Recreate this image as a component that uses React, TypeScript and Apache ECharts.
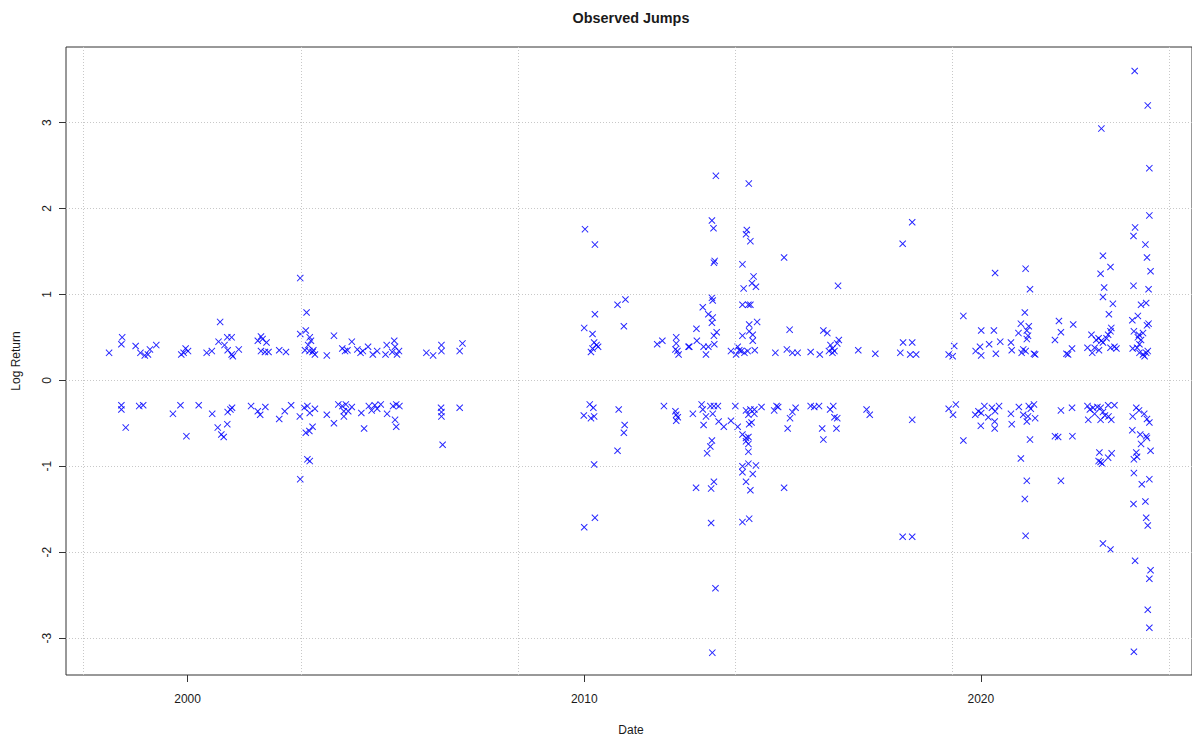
import React, { useEffect, useRef } from "react";
import * as echarts from "echarts";

// Tick labels / grid positions
const xTickYears = [2000, 2010, 2020];
const yTicks = [-3, -2, -1, 0, 1, 2, 3];
const xGridDays = [10000, 12000, 14000, 16000, 18000, 20000];

// Observed jumps: dates as decimal years, log returns
const datesA = [
  1998.02, 1998.35, 1998.33, 1998.69, 1998.81, 1998.92, 1999.0, 1999.05, 1999.21, 1999.84, 1999.95, 2000.01, 1999.9,
  2000.48, 2000.61, 2000.82, 2000.78, 2001.0, 2001.11, 2000.93, 2001.01, 2001.11, 2001.14, 2001.29, 2001.77, 2001.85,
  2001.89, 2001.99, 2001.85, 2001.95, 2002.04, 2002.31, 2002.48,
  1998.33, 1998.33, 1998.44, 1998.78, 1998.88, 1999.63, 1999.82, 1999.97, 2000.28, 2000.62, 2000.76, 2000.85, 2000.91,
  2001.0, 2001.01, 2001.08, 2001.12, 2001.6, 2001.77, 2001.83, 2001.96, 2002.31, 2002.45, 2002.61,
];
const returnsA = [
  0.32, 0.5, 0.42, 0.4, 0.32, 0.29, 0.3, 0.36, 0.41, 0.3, 0.37, 0.34, 0.32,
  0.32, 0.34, 0.68, 0.45, 0.5, 0.5, 0.41, 0.35, 0.3, 0.28, 0.36, 0.46, 0.51,
  0.48, 0.44, 0.34, 0.33, 0.33, 0.35, 0.33,
  -0.29, -0.34, -0.55, -0.3, -0.29, -0.39, -0.29, -0.65, -0.29, -0.39, -0.55, -0.63, -0.66,
  -0.51, -0.37, -0.34, -0.32, -0.3, -0.36, -0.4, -0.31, -0.45, -0.36, -0.29,
];

const datesB = [
  2002.84, 2003.0, 2002.84, 2002.98, 2003.08, 2003.11, 2003.04, 2002.96, 2003.07, 2003.15, 2003.21, 2003.17, 2003.51,
  2003.69, 2003.9, 2003.97, 2004.03, 2004.14, 2004.28, 2004.36, 2004.42, 2004.55, 2004.67, 2004.78, 2004.99, 2005.02,
  2005.21, 2005.23, 2005.16, 2005.28, 2005.33, 2006.02, 2006.19, 2006.4, 2006.4, 2006.86, 2006.93,
  2002.83, 2002.84, 2002.94, 2003.02, 2003.08, 2003.21, 2002.98, 2003.07, 2003.15, 2003.02, 2003.08, 2003.51, 2003.69,
  2003.8, 2003.9, 2003.99, 2003.94, 2003.94, 2004.05, 2004.14, 2004.38, 2004.45, 2004.57, 2004.64, 2004.72, 2004.78,
  2004.87, 2005.03, 2005.18, 2005.26, 2005.34, 2005.23, 2005.26, 2006.39, 2006.4, 2006.4, 2006.43, 2006.86,
];
const returnsB = [
  1.19, 0.79, 0.54, 0.58, 0.5, 0.46, 0.41, 0.35, 0.34, 0.33, 0.3, 0.35, 0.29,
  0.52, 0.37, 0.34, 0.35, 0.45, 0.36, 0.32, 0.34, 0.39, 0.3, 0.34, 0.3, 0.41,
  0.46, 0.39, 0.33, 0.3, 0.34, 0.32, 0.29, 0.41, 0.34, 0.34, 0.43,
  -0.42, -1.15, -0.32, -0.3, -0.38, -0.33, -0.61, -0.59, -0.54, -0.92, -0.94, -0.4, -0.5,
  -0.28, -0.3, -0.28, -0.36, -0.42, -0.36, -0.31, -0.38, -0.56, -0.3, -0.35, -0.29, -0.33,
  -0.28, -0.39, -0.3, -0.28, -0.3, -0.46, -0.54, -0.32, -0.37, -0.42, -0.75, -0.32,
];

const datesC = [
  2010.02, 2010.27, 2010.84, 2011.04, 2010.27, 2010.0, 2010.21, 2011.0, 2010.25, 2010.31, 2010.35, 2010.21, 2010.17,
  2011.84, 2011.97, 2012.32, 2012.32, 2012.3, 2012.35, 2012.38, 2012.63, 2012.83, 2012.84,
  2010.14, 2010.23, 2009.99, 2010.17, 2010.25, 2010.87, 2011.02, 2011.0, 2010.84, 2010.25, 2012.01, 2012.3, 2012.32,
  2012.36, 2012.32, 2012.74, 2012.82, 2010.27, 2010.0,
];
const returnsC = [
  1.76, 1.58, 0.88, 0.94, 0.77, 0.61, 0.54, 0.63, 0.44, 0.41, 0.39, 0.37, 0.33,
  0.42, 0.46, 0.5, 0.43, 0.36, 0.34, 0.3, 0.39, 0.6, 0.46,
  -0.28, -0.32, -0.41, -0.44, -0.42, -0.34, -0.52, -0.61, -0.82, -0.98, -0.3, -0.36, -0.4,
  -0.43, -0.47, -0.39, -1.25, -1.6, -1.71,
];

const datesD = [
  2013.32, 2013.22, 2013.26, 2013.27, 2013.29, 2013.22, 2013.24, 2012.99, 2013.13, 2013.24, 2013.22, 2013.34, 2013.27,
  2013.28, 2012.65, 2013.01, 2013.13, 2013.07, 2013.7, 2013.87, 2013.83, 2013.96,
  2012.96, 2012.99, 2013.07, 2013.01, 2013.18, 2013.27, 2013.37, 2013.24, 2013.39, 2013.52, 2013.7, 2013.81, 2013.87,
  2013.22, 2013.18, 2013.1, 2013.27, 2013.2, 2013.2, 2013.31, 2013.23,
];
const returnsD = [
  2.38, 1.86, 1.77, 1.37, 1.39, 0.96, 0.93, 0.85, 0.77, 0.73, 0.67, 0.56, 0.52,
  0.42, 0.39, 0.39, 0.39, 0.3, 0.34, 0.39, 0.3, 0.34,
  -0.28, -0.34, -0.42, -0.52, -0.3, -0.3, -0.3, -0.39, -0.48, -0.54, -0.47, -0.3, -0.54,
  -0.7, -0.77, -0.85, -1.18, -1.26, -1.66, -2.42, -3.17,
];

const datesE = [
  2014.15, 2014.1, 2014.08, 2014.19, 2015.04, 2013.99, 2014.27, 2014.23, 2014.33, 2014.02, 2013.99, 2014.14, 2014.19,
  2014.36, 2014.16, 2014.16, 2013.99, 2014.25, 2014.25, 2015.18, 2013.91, 2014.04, 2014.12, 2014.3, 2014.82, 2015.11,
  2015.25, 2015.38,
  2014.08, 2014.19, 2014.29, 2014.47, 2014.29, 2014.14, 2014.16, 2014.22, 2014.79, 2014.85, 2014.89, 2015.33, 2015.25,
  2015.19, 2015.13, 2013.99, 2014.08, 2014.14, 2014.08, 2014.14, 2014.14, 2013.99, 2014.14, 2014.33, 2013.99, 2014.25,
  2014.08, 2014.19, 2015.04, 2013.99, 2014.16,
];
const returnsE = [
  2.29, 1.75, 1.7, 1.62, 1.43, 1.35, 1.21, 1.13, 1.09, 1.07, 0.88, 0.88, 0.88,
  0.68, 0.65, 0.57, 0.52, 0.53, 0.46, 0.59, 0.35, 0.32, 0.34, 0.35, 0.32, 0.36,
  0.32, 0.32,
  -0.35, -0.34, -0.34, -0.31, -0.39, -0.4, -0.51, -0.49, -0.35, -0.3, -0.31, -0.32, -0.37,
  -0.44, -0.56, -0.63, -0.67, -0.66, -0.71, -0.74, -0.83, -1.0, -0.97, -0.99, -1.07, -1.09,
  -1.18, -1.28, -1.25, -1.65, -1.61,
];

const datesF = [
  2018.27, 2018.03, 2016.4, 2016.03, 2016.13, 2016.42, 2016.38, 2016.21, 2016.26, 2016.17, 2016.31, 2016.26, 2015.71,
  2015.94, 2016.91, 2017.34, 2017.97, 2018.04, 2018.27, 2018.22, 2018.37, 2019.19, 2019.33,
  2015.71, 2015.8, 2015.92, 2016.2, 2016.28, 2016.31, 2016.38, 2016.36, 2016.0, 2016.03, 2017.12, 2017.2, 2018.27,
  2019.19, 2019.3, 2018.03, 2018.27,
];
const returnsF = [
  1.84, 1.59, 1.1, 0.58, 0.55, 0.47, 0.43, 0.41, 0.37, 0.34, 0.34, 0.32, 0.33,
  0.3, 0.35, 0.31, 0.32, 0.44, 0.44, 0.3, 0.3, 0.3, 0.4,
  -0.3, -0.31, -0.3, -0.34, -0.3, -0.43, -0.44, -0.56, -0.56, -0.69, -0.34, -0.4, -0.46,
  -0.33, -0.4, -1.82, -1.82,
];

const datesG = [
  2020.36, 2021.13, 2021.24, 2019.56, 2021.11, 2021.97, 2021.01, 2021.21, 2020.01, 2020.33, 2021.16, 2022.02, 2020.95,
  2021.19, 2021.16, 2021.87, 2020.49, 2020.76, 2020.21, 2019.98, 2020.78, 2021.07, 2021.13, 2019.87, 2021.03, 2020.01,
  2020.38, 2021.34, 2021.37, 2022.16, 2019.29,
  2019.37, 2019.56, 2019.86, 2019.94, 2020.01, 2020.09, 2020.19, 2020.28, 2020.36, 2020.46, 2020.0, 2020.35, 2020.35,
  2020.76, 2020.78, 2020.96, 2021.07, 2021.21, 2021.26, 2021.34, 2021.19, 2021.16, 2021.37, 2022.02, 2021.24, 2021.87,
  2021.95, 2021.01, 2021.16, 2022.02, 2021.11, 2021.13,
];
const returnsG = [
  1.25, 1.3, 1.06, 0.75, 0.79, 0.69, 0.66, 0.63, 0.58, 0.58, 0.58, 0.56, 0.55,
  0.52, 0.48, 0.47, 0.45, 0.44, 0.42, 0.39, 0.35, 0.36, 0.34, 0.34, 0.32, 0.29,
  0.31, 0.31, 0.3, 0.31, 0.28,
  -0.28, -0.7, -0.4, -0.36, -0.38, -0.3, -0.43, -0.32, -0.36, -0.3, -0.53, -0.48, -0.56,
  -0.39, -0.51, -0.31, -0.4, -0.3, -0.33, -0.28, -0.42, -0.48, -0.44, -0.35, -0.69, -0.65,
  -0.66, -0.91, -1.17, -1.17, -1.38, -1.81,
];

const datesH = [
  2023.88, 2024.21, 2023.04, 2024.25, 2024.25, 2023.89, 2023.85, 2024.15, 2023.08, 2024.19, 2023.27, 2023.02, 2024.28,
  2023.11, 2023.85, 2024.23, 2023.08, 2023.33, 2024.04, 2024.17, 2023.23, 2023.82, 2023.96, 2024.23, 2024.19, 2022.33,
  2023.29, 2023.27, 2022.79, 2023.21, 2023.86, 2023.99, 2024.09, 2022.97, 2023.04, 2022.91, 2023.17, 2023.96, 2024.04,
  2023.08, 2022.69, 2022.87, 2023.27, 2023.37, 2023.42, 2022.3, 2024.0, 2023.94, 2023.83, 2022.81, 2022.98, 2022.2,
  2024.0, 2024.09, 2024.17, 2024.21, 2024.13,
];
const returnsH = [
  3.6, 3.2, 2.93, 2.47, 1.92, 1.78, 1.68, 1.58, 1.45, 1.43, 1.32, 1.24, 1.27,
  1.08, 1.1, 1.06, 0.97, 0.89, 0.88, 0.9, 0.77, 0.7, 0.75, 0.66, 0.64, 0.65,
  0.61, 0.57, 0.53, 0.53, 0.57, 0.53, 0.55, 0.49, 0.46, 0.47, 0.49, 0.5, 0.47,
  0.44, 0.38, 0.38, 0.38, 0.39, 0.37, 0.37, 0.42, 0.38, 0.37, 0.32, 0.35, 0.3,
  0.32, 0.3, 0.32, 0.34, 0.28,
];

const datesI = [
  2022.3, 2022.69, 2022.75, 2022.83, 2022.94, 2023.02, 2022.87, 2023.08, 2023.21, 2023.37, 2023.13, 2022.71, 2023.02,
  2023.29, 2023.22, 2023.92, 2023.99, 2023.83, 2024.12, 2024.19, 2024.25, 2022.31, 2023.82, 2024.02, 2024.17, 2024.19,
  2024.04, 2024.28, 2022.99, 2023.3, 2023.21, 2023.92, 2023.86, 2023.94, 2023.02, 2023.06, 2022.97, 2023.86, 2024.06,
  2024.25, 2023.85, 2024.15, 2024.17, 2024.21, 2023.08, 2023.27, 2023.89, 2024.28, 2024.25, 2024.21, 2024.25, 2023.86,
];
const returnsI = [
  -0.32, -0.3, -0.34, -0.32, -0.31, -0.32, -0.39, -0.37, -0.29, -0.29, -0.41, -0.46, -0.46,
  -0.46, -0.42, -0.32, -0.35, -0.42, -0.39, -0.45, -0.49, -0.65, -0.58, -0.63, -0.65, -0.67,
  -0.74, -0.82, -0.84, -0.85, -0.9, -0.84, -0.92, -0.89, -0.95, -0.97, -0.94, -1.08, -1.21,
  -1.15, -1.44, -1.41, -1.6, -1.69, -1.9, -1.97, -2.1, -2.21, -2.31, -2.67, -2.88, -3.16,
];

const allDates = [...datesA, ...datesB, ...datesC, ...datesD, ...datesE, ...datesF, ...datesG, ...datesH, ...datesI];
const allReturns = [
  ...returnsA, ...returnsB, ...returnsC, ...returnsD, ...returnsE, ...returnsF, ...returnsG, ...returnsH, ...returnsI,
];

const DAY = 86400000;
const yearToDay = (y: number) => 10957 + (y - 2000) * 365.25;
const yearStartDay = (y: number) => Date.UTC(y, 0, 1) / DAY;

const FONT = "Liberation Sans, Arial, Helvetica, sans-serif";
const TEXT = "#1a1a1a";
const BOX = "#333333";
// filled "x" glyph (pch = 4) in a 10x10 box
const CROSS = "path://M1,0L5,4L9,0L10,1L6,5L10,9L9,10L5,6L1,10L0,9L4,5L0,1Z";

export default function App() {
  const ref = useRef<HTMLDivElement>(null);

  useEffect(() => {
    if (!ref.current) return;
    const chart = echarts.init(ref.current, undefined, { renderer: "svg" });
    const points = allDates.map((d, i) => [yearToDay(d), allReturns[i]]);
    const xTickDays = xTickYears.map(yearStartDay);

    chart.setOption({
      animation: false,
      backgroundColor: "#ffffff",
      grid: {
        left: 66,
        right: -4,
        top: 47,
        bottom: 63,
        show: true,
        borderColor: BOX,
        borderWidth: 1,
        backgroundColor: "transparent",
      },
      xAxis: {
        type: "value",
        min: 9837,
        max: 20207,
        position: "bottom",
        axisLine: { show: false, onZero: false },
        splitLine: { show: false },
        axisTick: {
          show: true,
          length: 7,
          customValues: xTickDays,
          lineStyle: { color: BOX, width: 1 },
        },
        axisLabel: {
          customValues: xTickDays,
          margin: 18,
          color: TEXT,
          fontSize: 12,
          fontFamily: FONT,
          formatter: (v: number) => String(new Date(Math.round(v) * DAY).getUTCFullYear()),
        },
      },
      yAxis: {
        type: "value",
        min: -3.43,
        max: 3.88,
        position: "left",
        axisLine: { show: false, onZero: false },
        splitLine: { show: false },
        axisTick: {
          show: true,
          length: 7,
          customValues: yTicks,
          lineStyle: { color: BOX, width: 1 },
        },
        axisLabel: {
          customValues: yTicks,
          rotate: 90,
          margin: 13,
          color: TEXT,
          fontSize: 12,
          fontFamily: FONT,
          formatter: (v: number) => String(v),
        },
      },
      graphic: [
        {
          type: "text",
          x: 631,
          y: 18,
          style: {
            text: "Observed Jumps",
            font: `bold 14.4px ${FONT}`,
            fill: TEXT,
            align: "center",
            verticalAlign: "middle",
          },
        },
        {
          type: "text",
          x: 631,
          y: 730,
          style: {
            text: "Date",
            font: `12px ${FONT}`,
            fill: TEXT,
            align: "center",
            verticalAlign: "middle",
          },
        },
        {
          type: "text",
          x: 16,
          y: 361,
          rotation: Math.PI / 2,
          style: {
            text: "Log Return",
            font: `12px ${FONT}`,
            fill: TEXT,
            align: "center",
            verticalAlign: "middle",
          },
        },
      ],
      series: [
        {
          type: "line",
          data: [],
          z: 1,
          silent: true,
          markLine: {
            silent: true,
            symbol: ["none", "none"],
            label: { show: false },
            lineStyle: { color: "#c8c8c8", type: [1, 2], width: 1 },
            emphasis: { disabled: true },
            data: [
              ...xGridDays.map((d) => ({ xAxis: d })),
              ...yTicks.map((v) => ({ yAxis: v })),
            ],
          },
        },
        {
          type: "scatter",
          z: 3,
          silent: true,
          data: points,
          symbol: CROSS,
          symbolSize: 7,
          itemStyle: { color: "#0000ff", opacity: 0.85 },
          emphasis: { disabled: true },
        },
      ],
    });
    return () => chart.dispose();
  }, []);

  return (
    <div
      ref={ref}
      style={{ position: "fixed", left: 0, top: 0, width: 1192, height: 738, background: "#fff" }}
    />
  );
}
